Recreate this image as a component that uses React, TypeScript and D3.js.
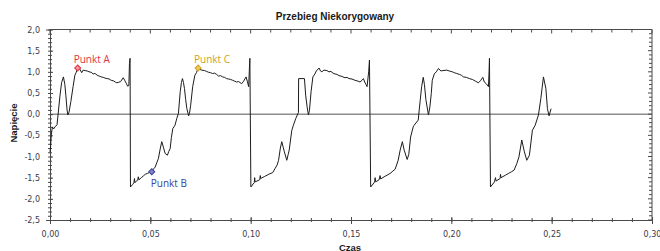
import React, { useEffect, useRef } from 'react';
import * as d3 from 'd3';

// czas [s], napięcie
const czas: number[] = [
  0.0, 0.0003, 0.0006, 0.0012, 0.0018, 0.0025, 0.0035, 0.004, 0.005, 0.0058, 0.0067, 0.0074, 0.0079, 0.0085, 0.0089, 0.0095,
  0.0104, 0.0115, 0.0124, 0.013, 0.0138, 0.0145, 0.015, 0.0158, 0.0165, 0.0175, 0.0185, 0.0195, 0.0205, 0.0215, 0.0225, 0.0235,
  0.0245, 0.0255, 0.0265, 0.0275, 0.0285, 0.0295, 0.0305, 0.0315, 0.0325, 0.0333, 0.034, 0.0352, 0.0365, 0.0372, 0.038, 0.0387,
  0.0393, 0.0396, 0.0399,
  0.0401, 0.0412, 0.0418, 0.0421, 0.0423, 0.043, 0.0437, 0.044, 0.0443, 0.0455, 0.0465, 0.0475, 0.0485, 0.0495, 0.0507, 0.0515,
  0.0524, 0.0532, 0.054, 0.055, 0.0557, 0.0565, 0.0574, 0.0585, 0.0592, 0.0599, 0.0605, 0.0612, 0.0618, 0.0623, 0.0632, 0.064,
  0.0649, 0.0655, 0.066, 0.0665, 0.067, 0.0676, 0.0682, 0.0691, 0.0696, 0.0701, 0.0711, 0.0722, 0.073, 0.0738, 0.0745, 0.0757,
  0.077, 0.078, 0.079, 0.08, 0.081, 0.082, 0.083, 0.084, 0.085, 0.086, 0.087, 0.088, 0.089, 0.09, 0.091, 0.092, 0.093, 0.094,
  0.0955, 0.0965, 0.0977, 0.0983, 0.099, 0.0993, 0.0996,
  0.1001, 0.1012, 0.1018, 0.102, 0.1022, 0.1045, 0.1048, 0.105, 0.107, 0.109, 0.111, 0.1122, 0.1132, 0.1139, 0.1148, 0.1155,
  0.1162, 0.1168, 0.118, 0.1187, 0.1192, 0.1205, 0.1213, 0.1225, 0.1238, 0.1239, 0.1268, 0.1274, 0.1282, 0.1288, 0.1293, 0.1301,
  0.131, 0.132, 0.1327, 0.1341, 0.1348, 0.1355, 0.1365, 0.138, 0.139, 0.14, 0.141, 0.142, 0.143, 0.144, 0.145, 0.146, 0.147,
  0.148, 0.149, 0.1505, 0.152, 0.1535, 0.1545, 0.1555, 0.1562, 0.1568, 0.1575, 0.158, 0.1588, 0.1592,
  0.1598, 0.161, 0.1618, 0.162, 0.1623, 0.164, 0.1645, 0.1648, 0.1665, 0.168, 0.1695, 0.1705, 0.172, 0.1735, 0.1745, 0.1756,
  0.1765, 0.178, 0.1788, 0.1797, 0.181, 0.1815, 0.1835, 0.184, 0.1845, 0.1852, 0.186, 0.1866, 0.1873, 0.1886, 0.1893, 0.19,
  0.1905, 0.1915, 0.1925, 0.1936, 0.1948, 0.1958, 0.1977, 0.199, 0.2005, 0.2015, 0.2027, 0.204, 0.205, 0.206, 0.2075, 0.209,
  0.2105, 0.212, 0.2135, 0.2145, 0.2157, 0.2164, 0.2174, 0.2185, 0.2188, 0.219,
  0.2195, 0.2215, 0.222, 0.2223, 0.2243, 0.2245, 0.2248, 0.227, 0.2285, 0.23, 0.2313, 0.2326, 0.2337, 0.2351, 0.2364, 0.2376,
  0.2389, 0.2404, 0.2418, 0.2434, 0.2446, 0.2459, 0.2471, 0.2479, 0.2487, 0.2497,
];

const napiecie: number[] = [
  -0.9, -0.75, -0.5, -0.3, -0.35, -0.3, -0.25, -0.02, 0.45, 0.75, 0.88, 0.7, 0.45, 0.1, -0.02, 0.05,
  0.3, 0.65, 0.92, 0.98, 1.09, 1.08, 1.05, 0.98, 1.04, 1.03, 1.02, 1.0, 0.99, 0.95, 0.96, 0.92,
  0.9, 0.88, 0.87, 0.85, 0.84, 0.83, 0.8, 0.79, 0.76, 0.74, 0.75, 0.77, 0.86, 0.8, 0.73, 0.66,
  0.68, 1.2, 1.32,
  -1.72, -1.66, -1.62, -1.52, -1.62, -1.58, -1.56, -1.48, -1.55, -1.5, -1.46, -1.42, -1.4, -1.38, -1.36, -1.3,
  -1.25, -1.15, -1.05, -0.8, -0.65, -0.78, -0.93, -0.97, -0.88, -0.81, -0.55, -0.34, -0.3, -0.26, -0.1, 0.02,
  0.53, 0.75, 0.84, 0.75, 0.61, 0.35, 0.13, -0.04, 0.05, 0.21, 0.65, 0.92, 0.98, 1.09, 1.06, 1.04,
  1.03, 1.01, 0.99, 0.98, 0.96, 0.97, 0.94, 0.9, 0.91, 0.88, 0.87, 0.84, 0.83, 0.82, 0.8, 0.78, 0.76, 0.77,
  0.72, 0.78, 0.88, 0.78, 0.65, 1.0, 1.32,
  -1.72, -1.65, -1.62, -1.5, -1.6, -1.55, -1.45, -1.52, -1.47, -1.42, -1.38, -1.28, -1.2, -1.09, -0.8, -0.65,
  -0.78, -0.89, -1.09, -0.95, -0.85, -0.38, -0.26, -0.1, 0.04, 0.84, 0.84, 0.45, 0.15, -0.02, 0.09, 0.53,
  0.88, 0.95, 1.02, 1.09, 1.02, 1.0, 1.04, 1.03, 1.0, 1.01, 0.97, 0.95, 0.94, 0.91, 0.9, 0.88, 0.86,
  0.87, 0.84, 0.83, 0.8, 0.78, 0.76, 0.8, 0.84, 0.76, 0.7, 0.65, 1.0, 1.28,
  -1.72, -1.65, -1.6, -1.5, -1.6, -1.55, -1.45, -1.53, -1.48, -1.44, -1.4, -1.36, -1.3, -1.09, -0.85, -0.65,
  -0.85, -1.07, -0.95, -0.54, -0.3, -0.26, -0.14, 0.1, 0.33, 0.65, 0.87, 0.7, 0.35, -0.02, 0.17, 0.49,
  0.8, 0.95, 1.0, 1.08, 1.02, 1.03, 1.04, 1.02, 1.0, 0.98, 0.96, 0.94, 0.92, 0.88, 0.87, 0.84,
  0.82, 0.78, 0.74, 0.79, 0.87, 0.76, 0.72, 0.65, 1.0, 1.32,
  -1.72, -1.6, -1.5, -1.58, -1.52, -1.42, -1.5, -1.44, -1.4, -1.36, -1.32, -1.17, -1.01, -0.61, -0.89, -1.09,
  -0.97, -0.38, -0.26, -0.02, 0.37, 0.88, 0.61, 0.13, -0.04, 0.13,
];

const punktyNazwy = ['Punkt A', 'Punkt B', 'Punkt C'];
const punktyCzas = [0.0138, 0.0507, 0.0738];
const punktyNapiecie = [1.09, -1.36, 1.09];
const punktyKolor = ['#e3323c', '#3b3f98', '#d0a21e'];
const punktyFill = ['#f29aa0', '#7f84c8', '#f2c85a'];

const xTicks = [0, 0.05, 0.1, 0.15, 0.2, 0.25, 0.3];
const yTicks = [-2.5, -2, -1.5, -1, -0.5, 0, 0.5, 1, 1.5, 2];

const width = 660;
const height = 251;
const left = 50;
const right = 652;
const top = 29.5;
const bottom = 220;

const App = () => {
  const ref = useRef<SVGSVGElement>(null);

  useEffect(() => {
    const svg = d3.select(ref.current);
    svg.selectAll('*').remove();

    const x = d3.scaleLinear().domain([0, 0.3]).range([left, right]);
    const y = d3.scaleLinear().domain([-2.5, 2]).range([bottom, top]);

    const xMinor = d3.range(0, 31).map((i) => i / 100);
    const yMinor = d3.range(-25, 21).map((i) => i / 10);
    const axisColor = '#4a4a4a';

    // linia zera
    svg.append('line')
      .attr('x1', left).attr('x2', right)
      .attr('y1', y(0)).attr('y2', y(0))
      .attr('stroke', '#8c8c8c').attr('stroke-width', 1.5);

    // ramka góra / prawo
    svg.append('line')
      .attr('x1', left).attr('x2', right).attr('y1', top).attr('y2', top)
      .attr('stroke', axisColor);
    svg.append('line')
      .attr('x1', right).attr('x2', right).attr('y1', top).attr('y2', bottom)
      .attr('stroke', axisColor);

    const fmtX = (d: number) => d3.format('.2f')(d).replace('.', ',');
    const fmtY = (d: number) => d3.format('.1f')(d).replace('.', ',').replace('−', '-');

    // oś X (dół)
    const gx = svg.append('g').attr('transform', `translate(0,${bottom})`);
    gx.call(d3.axisBottom(x).tickValues(xMinor).tickSize(0).tickFormat(() => ''));
    gx.selectAll('.tick line').attr('y1', -2).attr('y2', 2);
    const gx2 = svg.append('g').attr('transform', `translate(0,${bottom})`);
    gx2.call(d3.axisBottom(x).tickValues(xTicks).tickSize(4).tickPadding(7).tickFormat((d) => fmtX(+d)));
    gx2.selectAll('.tick line').attr('y1', -3);
    [gx, gx2].forEach((g) => {
      g.select('.domain').attr('stroke', axisColor);
      g.selectAll('.tick line').attr('stroke', axisColor);
    });
    gx2.selectAll('.tick text')
      .attr('font-family', 'DejaVu Sans').attr('font-size', 8).attr('fill', '#3a3a4a');

    // oś Y (lewa)
    const gy = svg.append('g').attr('transform', `translate(${left},0)`);
    gy.call(d3.axisLeft(y).tickValues(yMinor).tickSize(0).tickFormat(() => ''));
    gy.selectAll('.tick line').attr('x1', -2).attr('x2', 2);
    const gy2 = svg.append('g').attr('transform', `translate(${left},0)`);
    gy2.call(d3.axisLeft(y).tickValues(yTicks).tickSize(4).tickPadding(6).tickFormat((d) => fmtY(+d)));
    gy2.selectAll('.tick line').attr('x2', 3);
    [gy, gy2].forEach((g) => {
      g.select('.domain').attr('stroke', axisColor);
      g.selectAll('.tick line').attr('stroke', axisColor);
    });
    gy2.selectAll('.tick text')
      .attr('font-family', 'DejaVu Sans').attr('font-size', 8).attr('fill', '#3a3a4a');

    // ticki na górze i po prawej
    const gt = svg.append('g');
    gt.selectAll('line.minor')
      .data(xMinor).enter().append('line')
      .attr('x1', (d) => x(d)).attr('x2', (d) => x(d))
      .attr('y1', top).attr('y2', (d) => top + (xTicks.some((t) => Math.abs(t - d) < 1e-9) ? 4 : 3))
      .attr('stroke', axisColor);
    gt.selectAll('line.right')
      .data(yMinor).enter().append('line')
      .attr('y1', (d) => y(d)).attr('y2', (d) => y(d))
      .attr('x1', right).attr('x2', (d) => right - (yTicks.some((t) => Math.abs(t - d) < 1e-9) ? 4 : 3))
      .attr('stroke', axisColor);

    // przebieg
    const dane = czas.map((t, i) => [t, napiecie[i]] as [number, number]);
    const line = d3.line<[number, number]>()
      .x((d) => x(d[0]))
      .y((d) => y(d[1]));
    svg.append('path')
      .datum(dane)
      .attr('d', line)
      .attr('fill', 'none')
      .attr('stroke', '#1c1c1c')
      .attr('stroke-width', 1);

    // punkty
    const sym = d3.symbol().type(d3.symbolSquare).size(18);
    punktyNazwy.forEach((name, i) => {
      const px = x(punktyCzas[i]);
      const py = y(punktyNapiecie[i]);
      svg.append('path')
        .attr('d', sym())
        .attr('transform', `translate(${px},${py}) rotate(45)`)
        .attr('fill', punktyFill[i])
        .attr('stroke', punktyKolor[i])
        .attr('stroke-width', 1);
      const below = punktyNapiecie[i] < 0;
      svg.append('text')
        .attr('x', below ? px - 1 : px - 4)
        .attr('y', below ? py + 15 : py - 5.5)
        .attr('font-family', 'Open Sans')
        .attr('font-size', 10)
        .attr('fill', punktyKolor[i])
        .text(name);
    });

    // tytuły
    svg.append('text')
      .attr('x', 335).attr('y', 20)
      .attr('text-anchor', 'middle')
      .attr('font-family', 'Liberation Sans')
      .attr('font-weight', 'bold')
      .attr('font-size', 10)
      .attr('fill', '#1a1a1a')
      .text('Przebieg Niekorygowany');
    svg.append('text')
      .attr('x', 350).attr('y', 250.5)
      .attr('text-anchor', 'middle')
      .attr('font-family', 'Liberation Sans')
      .attr('font-weight', 'bold')
      .attr('font-size', 9.5)
      .attr('fill', '#1a1a1a')
      .text('Czas');
    svg.append('text')
      .attr('transform', 'translate(17,123) rotate(-90)')
      .attr('text-anchor', 'middle')
      .attr('font-family', 'Liberation Sans')
      .attr('font-weight', 'bold')
      .attr('font-size', 9.5)
      .attr('fill', '#1a1a1a')
      .text('Napięcie');
  }, []);

  return (
    <svg
      ref={ref}
      width={width}
      height={height}
      style={{ position: 'absolute', left: 0, top: 0, background: '#fff' }}
    />
  );
};

export default App;
